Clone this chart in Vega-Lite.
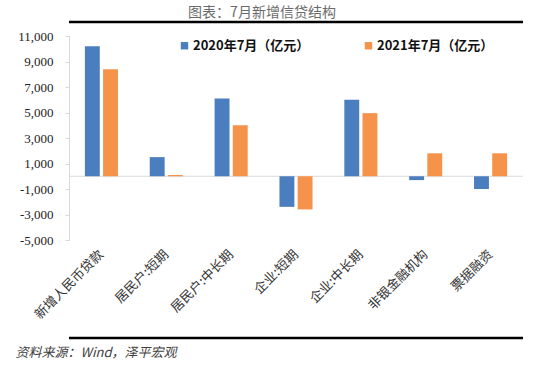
{
  "$schema": "https://vega.github.io/schema/vega-lite/v6.json",
  "width": 454,
  "height": 204,
  "autosize": {"type": "none"},
  "padding": {"left": 69, "top": 36, "right": 27, "bottom": 125},
  "background": "white",
  "title": {
    "text": "图表：7月新增信贷结构",
    "anchor": "middle",
    "dx": -34,
    "offset": 1,
    "font": "Noto Sans CJK SC",
    "fontSize": 14,
    "fontWeight": "normal",
    "color": "#6b6b6b"
  },
  "datasets": {
    "bars": [
      {"cat": "新增人民币贷款", "series": "2020年7月（亿元）", "value": 10200},
      {"cat": "新增人民币贷款", "series": "2021年7月（亿元）", "value": 8391},
      {"cat": "居民户:短期", "series": "2020年7月（亿元）", "value": 1500},
      {"cat": "居民户:短期", "series": "2021年7月（亿元）", "value": 97},
      {"cat": "居民户:中长期", "series": "2020年7月（亿元）", "value": 6100},
      {"cat": "居民户:中长期", "series": "2021年7月（亿元）", "value": 4000},
      {"cat": "企业:短期", "series": "2020年7月（亿元）", "value": -2400},
      {"cat": "企业:短期", "series": "2021年7月（亿元）", "value": -2600},
      {"cat": "企业:中长期", "series": "2020年7月（亿元）", "value": 6000},
      {"cat": "企业:中长期", "series": "2021年7月（亿元）", "value": 4950},
      {"cat": "非银金融机构", "series": "2020年7月（亿元）", "value": -300},
      {"cat": "非银金融机构", "series": "2021年7月（亿元）", "value": 1800},
      {"cat": "票据融资", "series": "2020年7月（亿元）", "value": -1000},
      {"cat": "票据融资", "series": "2021年7月（亿元）", "value": 1800}
    ],
    "frame": [
      {"line": "zero", "level": 0},
      {"line": "top", "level": 12100},
      {"line": "bottom", "level": -12686}
    ]
  },
  "data": {"name": "bars"},
  "layer": [
    {
      "data": {"name": "frame"},
      "transform": [{"filter": "datum.line == 'zero'"}],
      "mark": {"type": "rule", "color": "#d9d9d9", "strokeWidth": 1},
      "encoding": {
        "y": {"field": "level", "type": "quantitative",
          "scale": {"domain": [-5000, 11000], "nice": false, "zero": false},
          "axis": {"title": null, "values": [-5000, -3000, -1000, 1000, 3000, 5000, 7000, 9000, 11000], "format": ",d", "labelExpr": "replace(datum.label, '−', '-')", "labelOverlap": false, "labelFlush": false, "grid": false, "domainColor": "#d9d9d9", "tickColor": "#d9d9d9", "tickSize": 4, "labelPadding": 12, "labelFont": "Liberation Serif", "labelFontSize": 13, "labelColor": "#222222"}}
      }
    },
    {
      "data": {"name": "frame"},
      "transform": [{"filter": "datum.line != 'zero'"}],
      "mark": {"type": "rule", "color": "#000000", "strokeWidth": 2.5, "clip": false},
      "encoding": {
        "y": {"field": "level", "type": "quantitative",
          "scale": {"domain": [-5000, 11000], "nice": false, "zero": false},
          "axis": {"title": null, "values": [-5000, -3000, -1000, 1000, 3000, 5000, 7000, 9000, 11000], "format": ",d", "labelExpr": "replace(datum.label, '−', '-')", "labelOverlap": false, "labelFlush": false, "grid": false, "domainColor": "#d9d9d9", "tickColor": "#d9d9d9", "tickSize": 4, "labelPadding": 12, "labelFont": "Liberation Serif", "labelFontSize": 13, "labelColor": "#222222"}}
      }
    },
    {
      "mark": {"type": "bar"},
      "encoding": {
        "x": {"field": "cat", "type": "nominal", "sort": null,
          "scale": {"paddingInner": 0.49, "paddingOuter": 0.245},
          "axis": {"orient": "bottom", "domain": false, "ticks": false, "labelAngle": -45, "labelAlign": "right", "labelBaseline": "middle", "labelPadding": 12, "labelFont": "Noto Sans CJK SC", "labelFontSize": 13, "labelColor": "#333333", "labelOverlap": false, "title": "资料来源：Wind，泽平宏观", "titleAnchor": "start", "titleAlign": "left", "titleX": -54, "titleY": 112, "titleBaseline": "middle", "titleFont": "Noto Sans CJK SC", "titleFontSize": 13, "titleFontStyle": "italic", "titleFontWeight": "normal", "titleColor": "#404040"}},
        "xOffset": {"field": "series", "type": "nominal", "scale": {"paddingInner": 0.18}},
        "y": {"field": "value", "type": "quantitative",
          "scale": {"domain": [-5000, 11000], "nice": false, "zero": false},
          "axis": {"title": null, "values": [-5000, -3000, -1000, 1000, 3000, 5000, 7000, 9000, 11000], "format": ",d", "labelExpr": "replace(datum.label, '−', '-')", "labelOverlap": false, "labelFlush": false, "grid": false, "domainColor": "#d9d9d9", "tickColor": "#d9d9d9", "tickSize": 4, "labelPadding": 12, "labelFont": "Liberation Serif", "labelFontSize": 13, "labelColor": "#222222"}},
        "color": {
          "field": "series", "type": "nominal",
          "scale": {"range": ["#4A7EBF", "#F5934B"]},
          "legend": {
            "title": null,
            "orient": "none",
            "direction": "horizontal",
            "legendX": 109,
            "legendY": 3,
            "symbolType": "square",
            "symbolSize": 55,
            "symbolStrokeWidth": 0,
            "labelFont": "Noto Sans CJK SC",
            "labelFontSize": 13,
            "labelFontWeight": "bold",
            "labelColor": "#111111",
            "labelOffset": 2,
            "columnPadding": 52,
            "labelLimit": 200
          }
        }
      }
    }
  ],
  "config": {"view": {"stroke": null}}
}
